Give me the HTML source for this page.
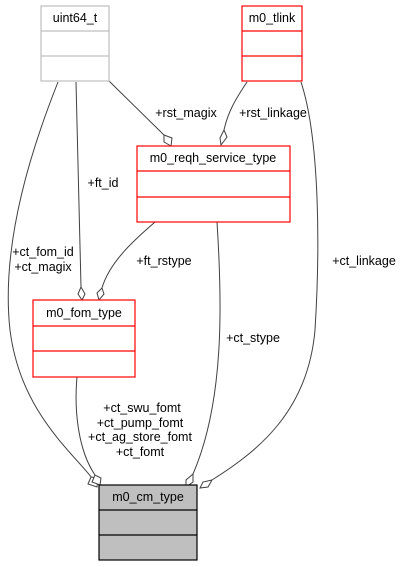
<!DOCTYPE html>
<html><head><style>body{margin:0;background:#fff}svg{display:block}</style></head><body>
<svg width="404" height="567" viewBox="0 0 404 567" xmlns="http://www.w3.org/2000/svg" font-family="Liberation Sans, sans-serif" font-size="12.5">
<g fill="none" stroke="#404040" stroke-width="1">
<path d="M58,82 C35,140 0,240 10,330 C20,410 70,450 92,478"/>
<path d="M76,82 L81,287"/>
<path d="M109,81 L164,135"/>
<path d="M247,82 C235,100 228,112 224,130"/>
<path d="M301,82 C320,140 320,250 315,330 C308,410 260,450 212,480"/>
<path d="M155,222 C140,235 110,260 102,288"/>
<path d="M217,222 C222,300 225,400 193,474"/>
<path d="M77,377 C74,410 78,450 95,475"/>
</g>
<g fill="#fff" stroke="#404040">
<polygon points="91,477 88,484 97,487 98,478"/>
<polygon points="95,475 92,482 100,485 101,478"/>
<polygon points="193,474 186,480 186,487 193,482"/>
<polygon points="212,480 203,482 200,488 208,487"/>
<polygon points="164,135 164,142 171,146 172,138"/>
<polygon points="224,130 220,138 221,145 227,137"/>
<polygon points="81,287 78,294 82,300 85,294"/>
<polygon points="102,288 97,293 99,300 104,294"/>
</g>
<g stroke-width="1.2" fill="#fff">
<rect x="41" y="6" width="68" height="75" stroke="#bfbfbf"/><line x1="41" y1="31" x2="109" y2="31" stroke="#bfbfbf"/><line x1="41" y1="56" x2="109" y2="56" stroke="#bfbfbf"/>
<rect x="242" y="6" width="60" height="75" stroke="red"/><line x1="242" y1="31" x2="302" y2="31" stroke="red"/><line x1="242" y1="56" x2="302" y2="56" stroke="red"/>
<rect x="137" y="146" width="153" height="76" stroke="red"/><line x1="137" y1="171" x2="290" y2="171" stroke="red"/><line x1="137" y1="197" x2="290" y2="197" stroke="red"/>
<rect x="33" y="300" width="102" height="77" stroke="red"/><line x1="33" y1="326" x2="135" y2="326" stroke="red"/><line x1="33" y1="351" x2="135" y2="351" stroke="red"/>
<rect x="99" y="485" width="98" height="75" fill="#bfbfbf" stroke="#000"/><line x1="99" y1="510" x2="197" y2="510" stroke="#000"/><line x1="99" y1="535" x2="197" y2="535" stroke="#000"/>
</g>
<g fill="#000" text-anchor="middle">
<text x="75" y="22">uint64_t</text>
<text x="272" y="22">m0_tlink</text>
<text x="213" y="162">m0_reqh_service_type</text>
<text x="84" y="317">m0_fom_type</text>
<text x="148" y="501">m0_cm_type</text>
<text x="186" y="117">+rst_magix</text>
<text x="273" y="117">+rst_linkage</text>
<text x="103" y="187">+ft_id</text>
<text x="43" y="256">+ct_fom_id</text>
<text x="43" y="271">+ct_magix</text>
<text x="164" y="265">+ft_rstype</text>
<text x="364" y="265">+ct_linkage</text>
<text x="253" y="342">+ct_stype</text>
<text x="142" y="412">+ct_swu_fomt</text>
<text x="140" y="427">+ct_pump_fomt</text>
<text x="140" y="441">+ct_ag_store_fomt</text>
<text x="140" y="456">+ct_fomt</text>
</g>
</svg>
</body></html>
